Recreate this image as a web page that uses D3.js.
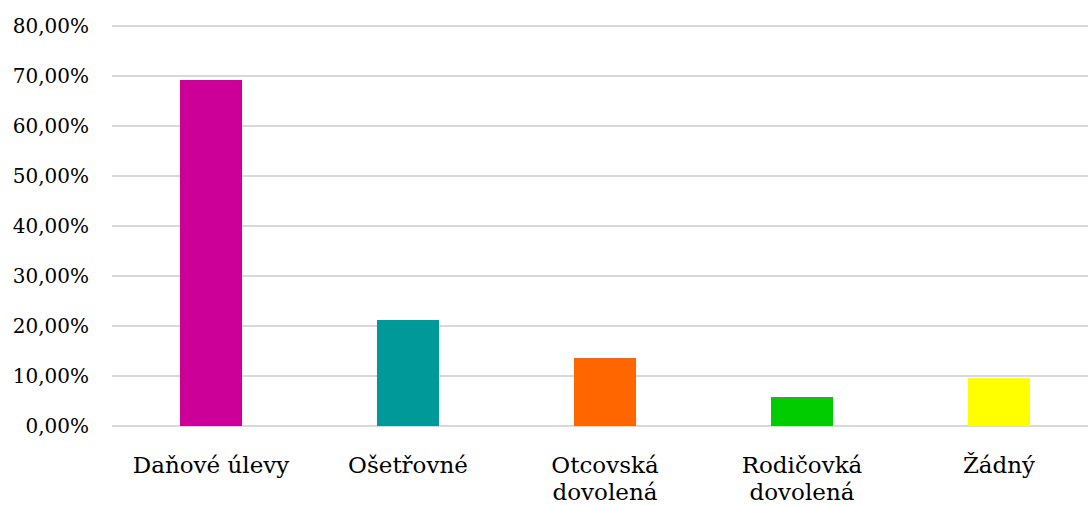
<!DOCTYPE html>
<html><head><meta charset="utf-8">
<script src="https://cdn.jsdelivr.net/npm/d3@7"></script>
<style>html,body{margin:0;padding:0;background:#fff;}svg{display:block;}</style>
</head><body>
<svg id="c" width="1088" height="506"></svg>
<script>
const categories = [["Daňové úlevy"], ["Ošetřovné"], ["Otcovská", "dovolená"], ["Rodičovká", "dovolená"], ["Žádný"]];
const values = [0.692, 0.212, 0.136, 0.058, 0.096];
const colors = ["#cc0099", "#009999", "#ff6600", "#00cc00", "#ffff00"];
const yTicks = [0, 0.1, 0.2, 0.3, 0.4, 0.5, 0.6, 0.7, 0.8];

const svg = d3.select("#c");
const font = "'DejaVu Serif', serif";
const keys = categories.map(c => c.join(" "));
const x = d3.scaleBand().domain(keys).range([112.5, 1097.5]).paddingInner(0.685).paddingOuter(0.3425);
const y = d3.scaleLinear().domain([0, 0.8]).range([426, 26]);

const fmt = v => d3.format(".2f")(v * 100).replace(".", ",") + "%";

svg.append("g").selectAll("line").data(yTicks).join("line")
  .attr("x1", 112).attr("x2", 1088)
  .attr("y1", d => y(d)).attr("y2", d => y(d))
  .attr("stroke", "#d9d9d9").attr("stroke-width", 2);

svg.append("g").selectAll("text").data(yTicks).join("text")
  .attr("x", 89).attr("y", d => y(d)).attr("dy", "0.36em")
  .attr("text-anchor", "end").attr("font-family", font).attr("font-size", 20).attr("fill", "#000")
  .text(fmt);

svg.append("g").selectAll("rect").data(values).join("rect")
  .attr("x", (d, i) => x(keys[i])).attr("width", x.bandwidth())
  .attr("y", d => y(d)).attr("height", d => y(0) - y(d))
  .attr("fill", (d, i) => colors[i]);

const lab = svg.append("g").selectAll("text").data(categories).join("text")
  .attr("text-anchor", "middle").attr("font-family", font).attr("font-size", 23).attr("fill", "#000")
  .attr("transform", (d, i) => `translate(${x(keys[i]) + x.bandwidth() / 2},473)`);
lab.selectAll("tspan").data(d => d).join("tspan")
  .attr("x", 0).attr("y", (d, i) => i * 27).text(d => d);
</script>
</body></html>
